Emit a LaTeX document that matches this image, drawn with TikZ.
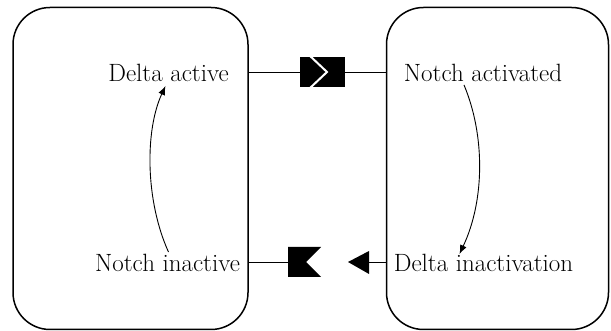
\documentclass[tikz,border=0pt]{standalone}
\usetikzlibrary{arrows.meta,calc}
\begin{document}
\begin{tikzpicture}[x=1pt,y=-1pt,
  cell/.style={draw,line width=1.5pt,rounded corners=37pt,inner sep=0pt},
  lbl/.style={inner sep=0pt,font=\fontsize{25}{29}\selectfont},
  conn/.style={line width=0.9pt},
  curvearrow/.style={line width=0.9pt,-{Latex[length=9pt,width=7pt]}},
  blk/.style={fill=black,draw=none}]
\useasboundingbox (0,0) rectangle (611,331);
% cell boxes
\node[cell,minimum width=235pt,minimum height=322pt] (lbox) at (130.5,168.5) {};
\node[cell,minimum width=222pt,minimum height=322pt] (rbox) at (497.5,168.5) {};
% labels
\node[lbl] (dact) at (168.5,73) {Delta active};
\node[lbl] (nact) at (483,73) {Notch activated};
\node[lbl] (ninact) at (167.5,263) {Notch inactive};
\node[lbl] (dinact) at (483.5,263) {Delta inactivation};
% top connector with ligand-receptor symbol
\coordinate (t1) at (300,72);
\coordinate (t2) at (345,72);
\draw[conn] (lbox.east |- t1) -- (t1);
\draw[conn] (t2) -- (rbox.west |- t2);
\fill[blk] (300,57) rectangle (345,87);
\draw[white,line width=2pt] (309,55) -- (327,72) -- (309,89);
% bottom connector
\coordinate (b1) at (288,262);
\coordinate (b2) at (369,262);
\draw[conn] (lbox.east |- b1) -- (b1);
\draw[conn] (b2) -- (rbox.west |- b2);
\fill[blk] (288,247) -- (321,247) -- (306,262) -- (321,277) -- (288,277) -- cycle;
\fill[blk] (348,262) -- (369,251) -- (369,274) -- cycle;
% internal transitions
\draw[curvearrow] ($(ninact.north)+(1,-2)$) .. controls (145,200) and (145,130) .. ($(dact.south)+(-3,4)$);
\draw[curvearrow] ($(nact.south)+(-19,3)$) .. controls (485,135) and (485,200) .. ($(dinact.north)+(-24,0)$);
\end{tikzpicture}
\end{document}
